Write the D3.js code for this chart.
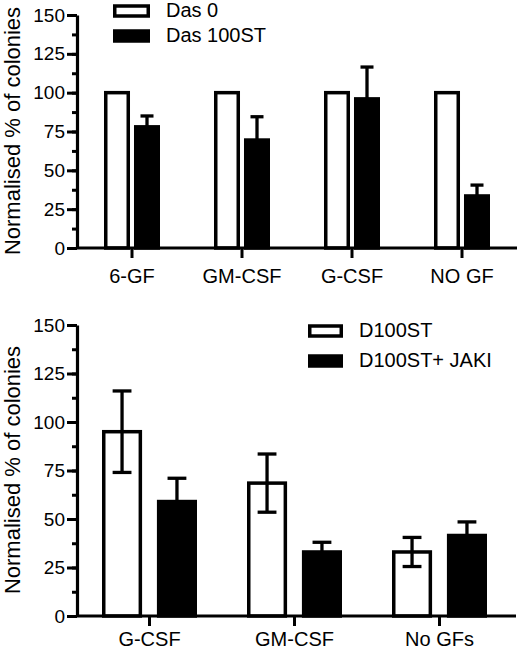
<!DOCTYPE html>
<html>
<head>
<meta charset="utf-8">
<script src="https://cdn.jsdelivr.net/npm/d3@7"></script>
<style>
  body { margin: 0; background: #fff; }
  svg { display: block; font-family: "Liberation Sans", Arial, sans-serif; }
</style>
</head>
<body>
<div id="chart"></div>
<script>
// top panel
const topCategories = ["6-GF", "GM-CSF", "G-CSF", "NO GF"];
const topSeries = ["Das 0", "Das 100ST"];
const das0Values = [100, 100, 100, 100];
const das0Errors = [0, 0, 0, 0];
const das100Values = [78, 69.5, 96, 33.5];
const das100Errors = [7, 15, 20.5, 7];

// bottom panel
const bottomCategories = ["G-CSF", "GM-CSF", "No GFs"];
const bottomSeries = ["D100ST", "D100ST+ JAKI"];
const d100Values = [95, 68.5, 33];
const d100Errors = [21, 15, 7.5];
const jakiValues = [59, 33, 41.5];
const jakiErrors = [12, 5, 7];

const majorTicks = [0, 25, 50, 75, 100, 125, 150];
const yTitle = "Normalised % of colonies";

const width = 520;
const height = 651;
const fills = ["#fff", "#000"];

const svg = d3.select("#chart").append("svg")
  .attr("width", width)
  .attr("height", height);

function panel(opts) {
  const g = svg.append("g");

  const y = d3.scaleLinear().domain([0, 150]).range([opts.bottom, opts.top]);
  const x0 = d3.scaleBand().domain(opts.categories).range(opts.xRange);
  const x1 = d3.scaleBand().domain(opts.series)
    .range([-opts.groupHalf, opts.groupHalf])
    .paddingInner(opts.innerPad);

  const rows = opts.categories.map((c, i) => ({
    cat: c,
    items: opts.series.map((s, j) => ({
      series: s, idx: j,
      value: opts.values[j][i],
      err: opts.errors[j][i]
    }))
  }));

  const sw = 3.5;
  const groups = g.selectAll("g.grp").data(rows).enter().append("g")
    .attr("transform", d => `translate(${x0(d.cat) + x0.bandwidth() / 2},0)`);

  groups.selectAll("rect").data(d => d.items).enter().append("rect")
    .attr("x", d => x1(d.series) + sw / 2)
    .attr("width", x1.bandwidth() - sw)
    .attr("y", d => y(d.value))
    .attr("height", d => y(0) - y(d.value))
    .attr("fill", d => fills[d.idx])
    .attr("stroke", "#000")
    .attr("stroke-width", sw);

  // error bars
  const cap = x1.bandwidth() * opts.capFrac;
  const eb = groups.selectAll("g.err").data(d => d.items.filter(e => e.err > 0))
    .enter().append("g")
    .attr("stroke", d => d.idx === 0 ? "#000" : "#000")
    .attr("stroke-width", 3.3);
  eb.append("line")
    .attr("x1", d => x1(d.series) + x1.bandwidth() / 2)
    .attr("x2", d => x1(d.series) + x1.bandwidth() / 2)
    .attr("y1", d => y(d.value - d.err))
    .attr("y2", d => y(d.value + d.err));
  eb.append("line")
    .attr("x1", d => x1(d.series) + x1.bandwidth() / 2 - cap / 2)
    .attr("x2", d => x1(d.series) + x1.bandwidth() / 2 + cap / 2)
    .attr("y1", d => y(d.value + d.err))
    .attr("y2", d => y(d.value + d.err));
  eb.append("line")
    .attr("x1", d => x1(d.series) + x1.bandwidth() / 2 - cap / 2)
    .attr("x2", d => x1(d.series) + x1.bandwidth() / 2 + cap / 2)
    .attr("y1", d => y(d.value - d.err))
    .attr("y2", d => y(d.value - d.err));

  // y axis: minor then major ticks
  const axX = opts.xRange[0];
  const minor = g.append("g")
    .attr("transform", `translate(${axX},0)`)
    .call(d3.axisLeft(y).tickValues(d3.range(0, 151, 12.5)).tickSize(5).tickFormat(""));
  minor.select(".domain").remove();
  minor.selectAll("line").attr("stroke-width", 3);

  const yAxis = g.append("g")
    .attr("transform", `translate(${axX},0)`)
    .call(d3.axisLeft(y).tickValues(majorTicks).tickSize(10).tickPadding(2).tickSizeOuter(0));
  yAxis.select(".domain").attr("stroke-width", 3.2);
  yAxis.selectAll(".tick line").attr("stroke-width", 3);
  yAxis.selectAll("text").attr("font-size", 19).attr("fill", "#000")
    .attr("font-family", "Liberation Sans, Arial, sans-serif");

  // x axis
  const xAxis = g.append("g")
    .attr("transform", `translate(0,${opts.bottom})`)
    .call(d3.axisBottom(x0).tickSize(10).tickPadding(opts.xLabelPad).tickSizeOuter(0));
  xAxis.select(".domain").attr("d", `M${axX},0H${opts.axisEnd}`).attr("stroke-width", 3.2);
  xAxis.selectAll(".tick line").attr("stroke-width", 3);
  xAxis.selectAll("text").attr("font-size", 20).attr("fill", "#000")
    .attr("font-family", "Liberation Sans, Arial, sans-serif");

  // title
  g.append("text")
    .attr("transform", `translate(20,${opts.titleY}) rotate(-90)`)
    .attr("text-anchor", "middle")
    .attr("font-size", 22)
    .text(yTitle);

  // legend
  const leg = g.selectAll("g.leg").data(opts.series).enter().append("g")
    .attr("transform", (d, i) => `translate(${opts.legX},${opts.legY + i * opts.legStep})`);
  leg.append("rect")
    .attr("x", 1.75).attr("y", -11)
    .attr("width", opts.legW - 3.5).attr("height", 10)
    .attr("fill", (d, i) => fills[i])
    .attr("stroke", "#000").attr("stroke-width", 3.5);
  leg.append("text")
    .attr("x", opts.legW + 16)
    .attr("y", 0)
    .attr("font-size", 20)
    .text(d => d);
}

panel({
  categories: topCategories,
  series: topSeries,
  values: [das0Values, das100Values],
  errors: [das0Errors, das100Errors],
  top: 15, bottom: 248,
  xRange: [77, 517], axisEnd: 517,
  groupHalf: 28, innerPad: 0.133, capFrac: 0.5,
  xLabelPad: 11,
  titleY: 131,
  legX: 113, legY: 17, legStep: 25, legW: 37
});

panel({
  categories: bottomCategories,
  series: bottomSeries,
  values: [d100Values, jakiValues],
  errors: [d100Errors, jakiErrors],
  top: 325, bottom: 616,
  xRange: [77, 512], axisEnd: 516,
  groupHalf: 47.5, innerPad: 0.27, capFrac: 0.47,
  xLabelPad: 6,
  titleY: 470,
  legX: 308, legY: 337, legStep: 30, legW: 35
});
</script>
</body>
</html>
